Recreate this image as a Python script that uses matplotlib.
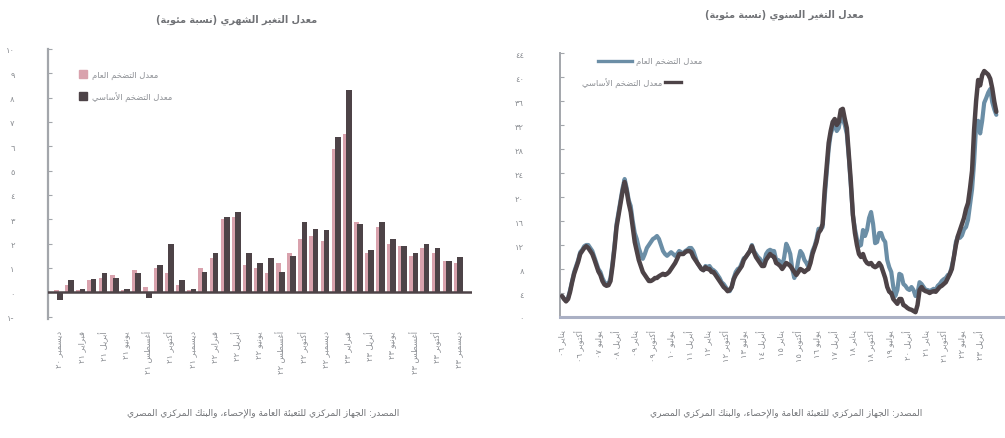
import re
import matplotlib
matplotlib.use("Agg")
import matplotlib.pyplot as plt
from matplotlib.ticker import FixedLocator

# ---------------- data ----------------
AR_MONTHS = ["يناير", "فبراير", "مارس", "أبريل", "مايو", "يونيو",
             "يوليو", "أغسطس", "سبتمبر", "أكتوبر", "نوفمبر", "ديسمبر"]

# left chart: monthly change, Dec 2020 .. Dec 2023
monthly_start = (2020, 12)
monthly_headline = [0.1, 0.3, 0.1, 0.5, 0.6, 0.7, 0.1, 0.9, 0.2, 1.0, 0.8, 0.3, 0.1,
                    1.0, 1.4, 3.0, 3.1, 1.1, 1.0, 0.8, 1.2, 1.6, 2.2, 2.3, 2.1,
                    5.9, 6.5, 2.9, 1.6, 2.7, 2.0, 1.9, 1.5, 1.8, 1.6, 1.3, 1.2]
monthly_core = [-0.3, 0.5, 0.15, 0.55, 0.8, 0.6, 0.15, 0.8, -0.25, 1.1, 2.0, 0.5, 0.15,
                0.85, 1.6, 3.1, 3.3, 1.6, 1.2, 1.4, 0.85, 1.5, 2.9, 2.6, 2.55,
                6.4, 8.3, 2.8, 1.75, 2.9, 2.2, 1.9, 1.6, 2.0, 1.8, 1.3, 1.45]

# right chart: annual change, Jan 2006 .. Dec 2023
annual_start = (2006, 1)
annual_headline = [
    3.5, 3.0, 2.8, 3.2, 4.5, 6.0, 7.5, 8.5, 9.5, 10.8, 11.2, 11.8,
    12.0, 12.0, 11.5, 11.0, 10.0, 9.0, 8.0, 7.5, 6.5, 5.8, 5.5, 5.5,
    6.5, 9.0, 12.0, 15.5, 17.5, 19.5, 21.5, 23.0, 21.5, 19.5, 18.5, 16.0,
    14.0, 13.0, 11.5, 10.5, 9.7, 10.5, 11.5, 12.0, 12.5, 13.0, 13.2, 13.5,
    13.0, 12.0, 11.0, 10.5, 10.2, 10.5, 10.8, 10.5, 10.2, 10.5, 11.0, 10.8,
    10.5, 11.0, 11.2, 11.5, 11.5, 11.0, 10.0, 9.0, 8.5, 8.0, 7.8, 8.5,
    8.3, 8.5, 8.0, 7.8, 7.5, 7.0, 6.5, 5.8, 5.5, 5.0, 4.5, 4.3,
    5.0, 6.5, 7.5, 8.0, 8.2, 9.0, 9.8, 10.0, 10.5, 11.0, 12.0, 11.0,
    10.5, 10.0, 9.7, 9.0, 9.0, 10.5, 11.0, 11.2, 11.0, 11.0, 9.5, 9.5,
    9.2, 8.3, 10.0, 12.2, 11.5, 10.5, 8.0, 6.5, 7.5, 9.5, 11.0, 10.5,
    9.5, 9.0, 8.3, 9.5, 11.0, 11.8, 13.0, 14.7, 14.5, 15.0, 19.8, 24.0,
    28.0, 30.5, 31.5, 32.0, 31.0, 31.5, 33.5, 33.0, 32.0, 30.5, 26.5, 21.8,
    17.0, 14.7, 13.0, 11.8, 12.0, 14.5, 13.5, 14.5, 16.5, 17.5, 15.5, 12.3,
    12.5, 14.0, 14.0, 13.0, 12.5, 9.5, 8.3, 7.5, 5.0, 3.5, 4.5, 7.2,
    7.0, 5.5, 5.2, 4.7, 4.5, 5.0, 4.5, 3.5, 4.0, 5.8, 5.5, 5.0,
    4.5, 4.5, 4.3, 4.5, 4.7, 4.5, 5.2, 5.5, 6.0, 6.3, 6.5, 7.0,
    7.2, 8.5, 10.0, 12.5, 13.5, 13.2, 13.6, 14.6, 15.0, 16.2, 18.7, 21.3,
    25.8, 31.9, 32.7, 30.6, 32.7, 35.7, 36.5, 37.4, 38.0, 35.8, 34.6, 33.7]
annual_core = [
    3.5, 3.0, 2.6, 3.0, 4.2, 5.8, 7.2, 8.2, 9.2, 10.5, 11.0, 11.5,
    11.8, 11.5, 11.0, 10.5, 9.6, 8.6, 7.6, 7.0, 6.0, 5.4, 5.2, 5.3,
    6.0, 8.5, 11.5, 15.0, 17.0, 19.0, 21.0, 22.5, 21.0, 19.0, 17.5, 15.0,
    12.5, 11.0, 9.5, 8.5, 7.5, 7.0, 6.5, 6.0, 6.0, 6.2, 6.5, 6.5,
    6.8, 7.0, 7.2, 7.0, 7.2, 7.5, 8.0, 8.5, 9.0, 9.7, 10.5, 10.5,
    10.5, 10.8, 11.0, 11.0, 10.8, 10.0, 9.5, 9.0, 8.5, 8.0, 7.8, 8.3,
    8.0, 8.0, 7.5, 7.5, 7.0, 6.5, 6.0, 5.5, 5.0, 4.7, 4.3, 4.5,
    5.0, 6.3, 7.0, 7.5, 8.0, 8.5, 9.5, 10.0, 10.5, 11.0, 11.8, 10.8,
    10.0, 9.5, 9.0, 8.5, 8.5, 9.5, 10.0, 10.5, 10.2, 10.0, 9.0, 8.8,
    8.5, 8.0, 8.5, 9.0, 8.8, 8.5, 8.0, 7.5, 7.0, 7.5, 8.0, 7.8,
    7.5, 7.8, 8.0, 9.0, 10.5, 11.5, 12.5, 14.0, 14.5, 15.5, 21.0, 25.0,
    29.0, 31.0, 32.5, 33.0, 32.0, 32.5, 34.5, 34.7, 33.0, 31.5, 27.0, 22.5,
    17.0, 14.0, 12.0, 10.5, 10.0, 10.5, 9.5, 9.0, 8.8, 9.0, 8.5, 8.3,
    8.5, 9.0, 8.5, 7.5, 6.5, 5.0, 4.2, 4.0, 3.0, 2.6, 2.2, 3.0,
    3.0, 2.0, 1.8, 1.5, 1.3, 1.2, 1.0, 0.8, 2.0, 4.5, 5.0, 4.5,
    4.3, 4.2, 4.0, 4.2, 4.3, 4.2, 4.6, 5.0, 5.2, 5.5, 5.8, 6.5,
    7.2, 8.0, 10.0, 12.0, 13.5, 14.5, 15.5, 16.5, 18.0, 19.0, 21.5, 24.4,
    31.2, 36.0, 39.5, 38.6, 40.3, 41.0, 40.7, 40.4, 39.7, 38.1, 35.9, 34.2]

left_yticks = list(range(-1, 11))
right_yticks = list(range(0, 45, 4))

title_left = "معدل التغير الشهري (نسبة مئوية)"
title_right = "معدل التغير السنوي (نسبة مئوية)"
lbl_headline = "معدل التضخم العام"
lbl_core = "معدل التضخم الأساسي"
source_text = "المصدر: الجهاز المركزي للتعبئة العامة والإحصاء، والبنك المركزي المصري"

# ---------------- Arabic shaping helpers ----------------
FORMS = {
    '\u0621': (0xFE80, 1), '\u0622': (0xFE81, 2), '\u0623': (0xFE83, 2), '\u0624': (0xFE85, 2),
    '\u0625': (0xFE87, 2), '\u0626': (0xFE89, 4), '\u0627': (0xFE8D, 2), '\u0628': (0xFE8F, 4),
    '\u0629': (0xFE93, 2), '\u062A': (0xFE95, 4), '\u062B': (0xFE99, 4), '\u062C': (0xFE9D, 4),
    '\u062D': (0xFEA1, 4), '\u062E': (0xFEA5, 4), '\u062F': (0xFEA9, 2), '\u0630': (0xFEAB, 2),
    '\u0631': (0xFEAD, 2), '\u0632': (0xFEAF, 2), '\u0633': (0xFEB1, 4), '\u0634': (0xFEB5, 4),
    '\u0635': (0xFEB9, 4), '\u0636': (0xFEBD, 4), '\u0637': (0xFEC1, 4), '\u0638': (0xFEC5, 4),
    '\u0639': (0xFEC9, 4), '\u063A': (0xFECD, 4), '\u0641': (0xFED1, 4), '\u0642': (0xFED5, 4),
    '\u0643': (0xFED9, 4), '\u0644': (0xFEDD, 4), '\u0645': (0xFEE1, 4), '\u0646': (0xFEE5, 4),
    '\u0647': (0xFEE9, 4), '\u0648': (0xFEED, 2), '\u0649': (0xFEEF, 2), '\u064A': (0xFEF1, 4),
}
LAM_ALEF = {'\u0622': 0xFEF5, '\u0623': 0xFEF7, '\u0625': 0xFEF9, '\u0627': 0xFEFB}
MIRROR = str.maketrans({'(': ')', ')': '('})
LTR_RE = r'[0-9\u0660-\u0669.%]'


def shape(text):
    units = []
    i = 0
    while i < len(text):
        c = text[i]
        if c == '\u0644' and i + 1 < len(text) and text[i + 1] in LAM_ALEF:
            units.append(('LA', LAM_ALEF[text[i + 1]], 2))
            i += 2
            continue
        if c in FORMS:
            b, n = FORMS[c]
            units.append((c, b, n))
        else:
            units.append((c, None, 0))
        i += 1
    out = []
    for j, (c, b, n) in enumerate(units):
        if b is None:
            out.append(c)
            continue
        if n == 1:
            out.append(chr(b))
            continue
        prev = units[j - 1] if j > 0 else None
        nxt = units[j + 1] if j + 1 < len(units) else None
        jp = prev is not None and prev[2] == 4
        jn = n == 4 and nxt is not None and nxt[1] is not None and nxt[2] > 1
        if jp and jn:
            f = 3
        elif jp:
            f = 1
        elif jn:
            f = 2
        else:
            f = 0
        out.append(chr(b + f))
    return ''.join(out)


def ar(text):
    s = shape(text)
    runs = re.findall(LTR_RE + r'+|[^0-9\u0660-\u0669.%]+', s)
    out = []
    for r in reversed(runs):
        if re.match(LTR_RE, r):
            out.append(r)
        else:
            out.append(r[::-1].translate(MIRROR))
    return ''.join(out)


AR_DIGITS = str.maketrans('0123456789-', '٠١٢٣٤٥٦٧٨٩-')


def ad(v):
    return ar(str(v).translate(AR_DIGITS))


def month_label(start, k):
    y0, m0 = start
    idx = (m0 - 1) + k
    year = y0 + idx // 12
    return ar(AR_MONTHS[idx % 12] + " " + ("%02d" % (year % 100)).translate(AR_DIGITS))


# ---------------- styling ----------------
plt.rcParams['font.family'] = ['DejaVu Sans']
C_HEAD_BAR = '#d9a2ad'
C_CORE = '#4d4347'
C_HEAD_LINE = '#6b8ea6'
C_AXIS = '#a3a6ab'
C_TICK = '#8c8f94'
C_TITLE = '#707276'

W, H = 1005, 439
fig = plt.figure(figsize=(W / 100, H / 100), dpi=100)


def fx(px):
    return px / W


def fy(py):
    return 1 - py / H


# ---------------- left chart ----------------
axl = fig.add_axes([fx(48), fy(320), fx(472) - fx(48), fy(50) - fy(320)])
n_left = len(monthly_core)
xs = list(range(n_left))
axl.bar([x - 0.22 for x in xs], monthly_headline, width=0.45, color=C_HEAD_BAR, zorder=2)
axl.bar([x + 0.1 for x in xs], monthly_core, width=0.52, color=C_CORE, zorder=3)
axl.axhline(0, color=C_CORE, lw=1.8, zorder=4)
axl.set_xlim(-1.0, 37.2)
axl.set_ylim(-1.1, 10)
for s in ['top', 'right', 'bottom']:
    axl.spines[s].set_visible(False)
axl.spines['left'].set_color(C_AXIS)
axl.spines['left'].set_linewidth(1.6)
axl.yaxis.set_major_locator(FixedLocator(left_yticks))
axl.set_yticklabels([ad(v) for v in left_yticks])
axl.tick_params(axis='y', direction='in', length=3, color=C_AXIS, labelsize=6,
                labelcolor=C_TICK, pad=24)
lt = list(range(0, n_left, 2))
axl.xaxis.set_major_locator(FixedLocator(lt))
axl.set_xticklabels([month_label(monthly_start, k) for k in lt], rotation=90)
axl.tick_params(axis='x', length=0, labelsize=6, labelcolor=C_TICK, pad=8)

# legend (left)
axl.plot([0.083], [0.907], marker='s', ms=6, color=C_HEAD_BAR, transform=axl.transAxes,
         clip_on=False)
axl.plot([0.083], [0.826], marker='s', ms=6, color=C_CORE, transform=axl.transAxes,
         clip_on=False)
axl.text(0.103, 0.907, ar(lbl_headline), transform=axl.transAxes, fontsize=6,
         color=C_TICK, ha='left', va='center')
axl.text(0.103, 0.826, ar(lbl_core), transform=axl.transAxes, fontsize=6,
         color=C_TICK, ha='left', va='center')

# ---------------- right chart ----------------
axr = fig.add_axes([fx(560), fy(318), fx(1005) - fx(560), fy(54) - fy(318)])
mx = list(range(len(annual_core)))
axr.plot(mx, annual_headline, color=C_HEAD_LINE, lw=3.0, zorder=2, solid_capstyle='round')
axr.plot(mx, annual_core, color=C_CORE, lw=3.2, zorder=3, solid_capstyle='round')
axr.set_xlim(-1, 219.3)
axr.set_ylim(0, 44)
for s in ['top', 'right']:
    axr.spines[s].set_visible(False)
axr.spines['left'].set_color(C_AXIS)
axr.spines['left'].set_linewidth(1.4)
axr.spines['bottom'].set_color('#aab0c4')
axr.spines['bottom'].set_linewidth(2.2)
axr.yaxis.set_major_locator(FixedLocator(right_yticks))
axr.set_yticklabels([ad(v) for v in right_yticks])
axr.tick_params(axis='y', direction='in', length=3, color=C_AXIS, labelsize=6,
                labelcolor=C_TICK, pad=26)
rt = list(range(0, len(annual_core), 9))
axr.xaxis.set_major_locator(FixedLocator(rt))
axr.set_xticklabels([month_label(annual_start, k) for k in rt], rotation=90)
axr.tick_params(axis='x', length=0, labelsize=6, labelcolor=C_TICK, pad=9)

# legend (right)
axr.plot([0.085, 0.162], [0.970, 0.970], color=C_HEAD_LINE, lw=2.4, transform=axr.transAxes,
         clip_on=False)
axr.text(0.171, 0.970, ar(lbl_headline), transform=axr.transAxes, fontsize=6,
         color=C_TICK, ha='left', va='center')
axr.text(0.229, 0.890, ar(lbl_core), transform=axr.transAxes, fontsize=6,
         color=C_TICK, ha='right', va='center')
axr.plot([0.236, 0.272], [0.890, 0.890], color=C_CORE, lw=2.4, transform=axr.transAxes,
         clip_on=False)

# ---------------- titles & sources ----------------
fig.text(fx(237), fy(20), ar(title_left), ha='center', va='center', fontsize=7,
         color=C_TITLE, fontweight='bold')
fig.text(fx(784), fy(15), ar(title_right), ha='center', va='center', fontsize=7,
         color=C_TITLE, fontweight='bold')
fig.text(fx(263), fy(413), ar(source_text), ha='center', va='center', fontsize=6.5,
         color=C_TITLE)
fig.text(fx(786), fy(413), ar(source_text), ha='center', va='center', fontsize=6.5,
         color=C_TITLE)

fig.savefig("out.png", dpi=100)
